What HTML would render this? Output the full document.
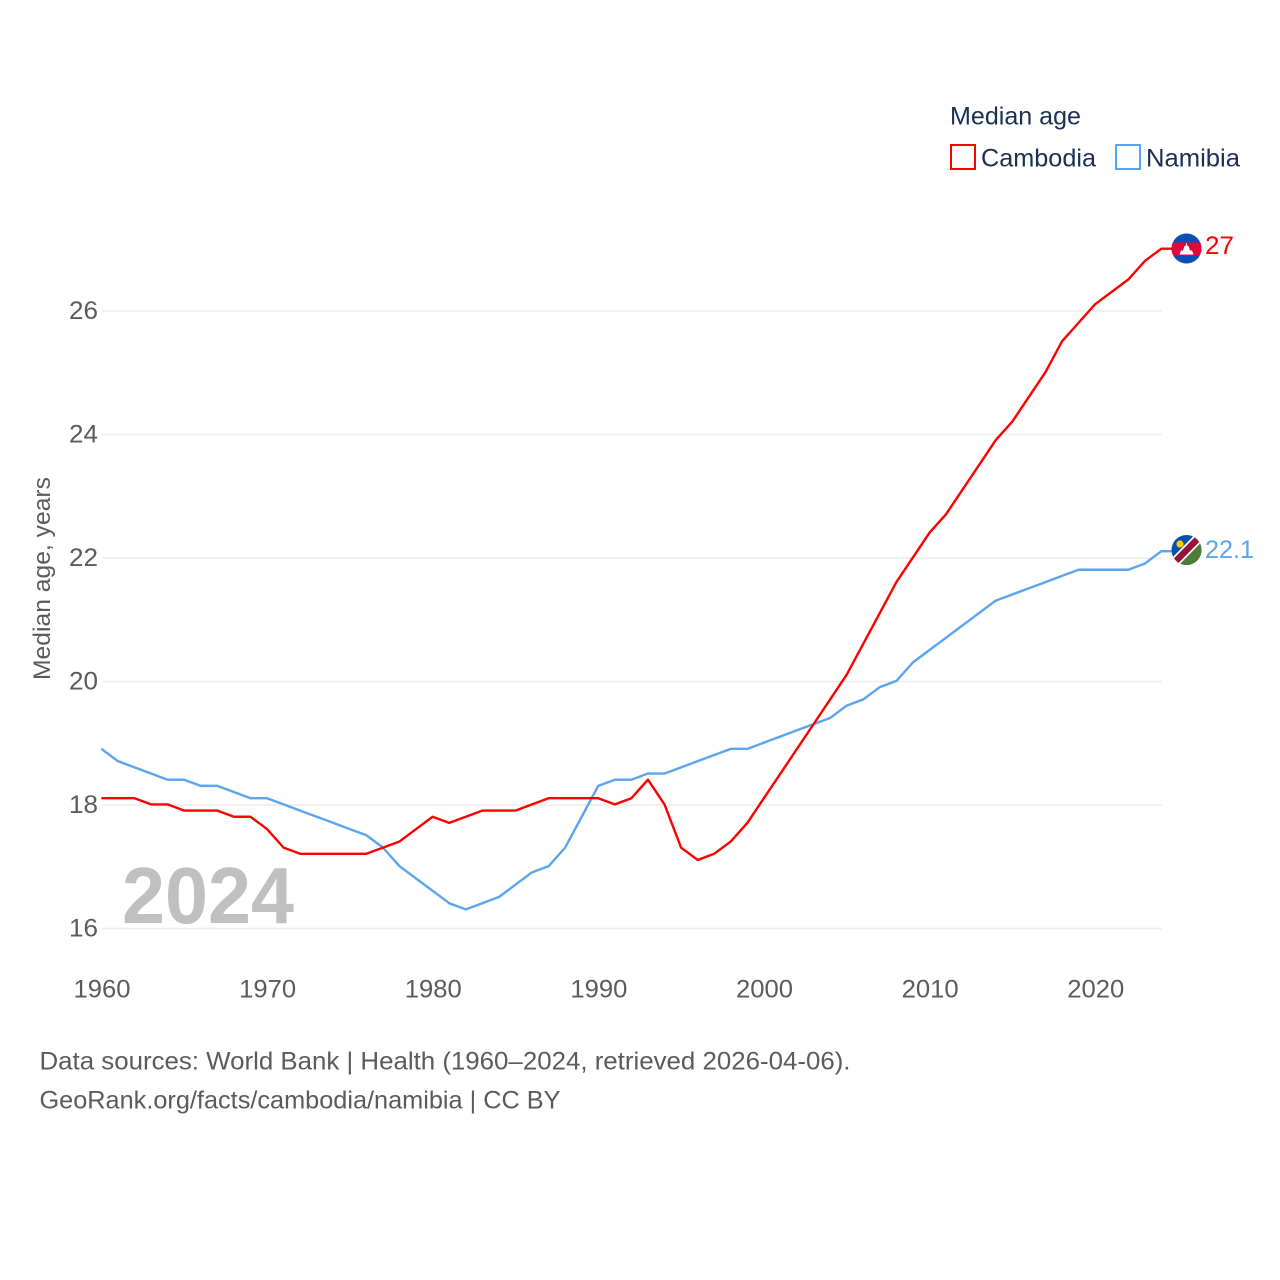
<!DOCTYPE html>
<html lang="en">
<head>
<meta charset="utf-8">
<title>Median age: Cambodia and Namibia</title>
<style>
html,body{margin:0;padding:0;background:#fff;width:1280px;height:1280px;overflow:hidden}
svg{display:block}
text{font-family:"Liberation Sans",sans-serif}
</style>
</head>
<body>
<svg id="chart" width="1280" height="1280" viewBox="0 0 1280 1280" xmlns="http://www.w3.org/2000/svg">
  <rect width="1280" height="1280" fill="#fff"/>
  <g id="grid"></g>
  <g id="yticks"></g>
  <g id="xticks"></g>
  <text transform="translate(50,680) rotate(-90)" font-size="24.5" fill="#5b5b5b" textLength="203" lengthAdjust="spacingAndGlyphs">Median age, years</text>
  <text x="122" y="923" font-size="80" font-weight="bold" fill="#c0c0c0" textLength="172" lengthAdjust="spacingAndGlyphs">2024</text>
  <g id="series"></g>

  <g>
    <clipPath id="clipK"><circle cx="1186.5" cy="248.5" r="15"/></clipPath>
    <g clip-path="url(#clipK)">
      <rect x="1170" y="232" width="33" height="33" fill="#0a4fb4"/>
      <rect x="1170" y="242.5" width="33" height="13" fill="#e0073c"/>
      <path d="M1179.5 254.5 L1181 250.5 L1183 250.5 L1184.5 246 L1185.5 246 L1186.5 242.5 L1187.5 246 L1188.5 246 L1190 250.5 L1192 250.5 L1193.5 254.5 Z" fill="#fff"/>
    </g>
  </g>
  <g>
    <clipPath id="clipN"><circle cx="1186.5" cy="550" r="15"/></clipPath>
    <g clip-path="url(#clipN)">
      <rect x="1170" y="534" width="33" height="33" fill="#0a4fa8"/>
      <path d="M1203 533.5 V567 H1170 Z" fill="#4f7a38"/>
      <path d="M1170 567 L1203 533.5" stroke="#fff" stroke-width="10" fill="none"/>
      <path d="M1170 567 L1203 533.5" stroke="#99123a" stroke-width="6.5" fill="none"/>
      <circle cx="1180" cy="544" r="3.6" fill="#ffce00"/>
    </g>
  </g>
  <text id="label-cambodia" x="1205" y="254" font-size="25" fill="#ff0000" textLength="29" lengthAdjust="spacingAndGlyphs">27</text>
  <text id="label-namibia" x="1205" y="558" font-size="25" fill="#5ba4ee" textLength="49" lengthAdjust="spacingAndGlyphs">22.1</text>

  <g>
    <text x="950" y="124.5" font-size="25" fill="#1a2f52" textLength="131" lengthAdjust="spacingAndGlyphs">Median age</text>
    <g>
      <rect x="951" y="145" width="24" height="24" fill="none" stroke="#ff0000" stroke-width="2"/>
      <text x="981" y="166.5" font-size="25" fill="#1a2f52" textLength="115" lengthAdjust="spacingAndGlyphs">Cambodia</text>
    </g>
    <g>
      <rect x="1116" y="145" width="24" height="24" fill="none" stroke="#5ba4ee" stroke-width="2"/>
      <text x="1146" y="166.5" font-size="25" fill="#1a2f52" textLength="94" lengthAdjust="spacingAndGlyphs">Namibia</text>
    </g>
  </g>

  <text x="39.5" y="1069.5" font-size="25" fill="#5b5b5b" textLength="811" lengthAdjust="spacingAndGlyphs">Data sources: World Bank | Health (1960–2024, retrieved 2026-04-06).</text>
  <text x="39.5" y="1108.5" font-size="25" fill="#5b5b5b" textLength="521" lengthAdjust="spacingAndGlyphs">GeoRank.org/facts/cambodia/namibia | CC BY</text>
</svg>
<script>
const years = [1960,1961,1962,1963,1964,1965,1966,1967,1968,1969,1970,1971,1972,1973,1974,1975,1976,1977,1978,1979,1980,1981,1982,1983,1984,1985,1986,1987,1988,1989,1990,1991,1992,1993,1994,1995,1996,1997,1998,1999,2000,2001,2002,2003,2004,2005,2006,2007,2008,2009,2010,2011,2012,2013,2014,2015,2016,2017,2018,2019,2020,2021,2022,2023,2024];
const cambodia = [18.1,18.1,18.1,18.0,18.0,17.9,17.9,17.9,17.8,17.8,17.6,17.3,17.2,17.2,17.2,17.2,17.2,17.3,17.4,17.6,17.8,17.7,17.8,17.9,17.9,17.9,18.0,18.1,18.1,18.1,18.1,18.0,18.1,18.4,18.0,17.3,17.1,17.2,17.4,17.7,18.1,18.5,18.9,19.3,19.7,20.1,20.6,21.1,21.6,22.0,22.4,22.7,23.1,23.5,23.9,24.2,24.6,25.0,25.5,25.8,26.1,26.3,26.5,26.8,27.0];
const namibia = [18.9,18.7,18.6,18.5,18.4,18.4,18.3,18.3,18.2,18.1,18.1,18.0,17.9,17.8,17.7,17.6,17.5,17.3,17.0,16.8,16.6,16.4,16.3,16.4,16.5,16.7,16.9,17.0,17.3,17.8,18.3,18.4,18.4,18.5,18.5,18.6,18.7,18.8,18.9,18.9,19.0,19.1,19.2,19.3,19.4,19.6,19.7,19.9,20.0,20.3,20.5,20.7,20.9,21.1,21.3,21.4,21.5,21.6,21.7,21.8,21.8,21.8,21.8,21.9,22.1];
const yTickValues = [16,18,20,22,24,26];
const xTickValues = [1960,1970,1980,1990,2000,2010,2020];

const NS = 'http://www.w3.org/2000/svg';
const FLAG_LEFT = 1172;
const xScale = function (v) { return 102 + (v - 1960) * (1162 - 102) / (2024 - 1960); };
const yScale = function (v) { return 928.5 - (v - 16) * (928.5 - 311) / (26 - 16); };
const xLine = function (v) { return 101.4 + (v - 1960) * (1161.4 - 101.4) / (2024 - 1960); };
const yLine = function (v) { return yScale(v) - 0.6; };

const gridGroup = document.getElementById('grid');
const yGroup = document.getElementById('yticks');
const xGroup = document.getElementById('xticks');
const seriesGroup = document.getElementById('series');

yTickValues.forEach(function (t) {
  const line = document.createElementNS(NS, 'line');
  
  
  line.setAttribute('x1', 102);
  line.setAttribute('x2', 1161.5);
  line.setAttribute('y1', yScale(t));
  line.setAttribute('y2', yScale(t));
  line.setAttribute('stroke', '#ececec');
  line.setAttribute('stroke-width', '1.5');
  gridGroup.appendChild(line);

  const label = document.createElementNS(NS, 'text');
  
  
  label.setAttribute('x', 98);
  label.setAttribute('y', yScale(t) + 8);
  label.setAttribute('text-anchor', 'end');
  label.setAttribute('font-size', '25');
  label.setAttribute('fill', '#5b5b5b');
  label.setAttribute('textLength', '29');
  label.setAttribute('lengthAdjust', 'spacingAndGlyphs');
  label.textContent = t;
  yGroup.appendChild(label);
});

xTickValues.forEach(function (t) {
  const label = document.createElementNS(NS, 'text');
  
  
  label.setAttribute('x', xScale(t));
  label.setAttribute('y', 997.5);
  label.setAttribute('text-anchor', 'middle');
  label.setAttribute('font-size', '25');
  label.setAttribute('fill', '#5b5b5b');
  label.setAttribute('textLength', '57');
  label.setAttribute('lengthAdjust', 'spacingAndGlyphs');
  label.textContent = t;
  xGroup.appendChild(label);
});

function pathFor(values) {
  const d = values.map(function (v, i) {
    return (i ? 'L' : 'M') + xLine(years[i]).toFixed(2) + ' ' + yLine(v).toFixed(2);
  }).join(' ');
  return d + ' L' + FLAG_LEFT + ' ' + yLine(values[values.length - 1]).toFixed(2);
}

const namibiaLine = document.createElementNS(NS, 'path');


namibiaLine.setAttribute('d', pathFor(namibia));
namibiaLine.setAttribute('fill', 'none');
namibiaLine.setAttribute('stroke', '#5ba4ee');
namibiaLine.setAttribute('stroke-width', '2.4');
namibiaLine.setAttribute('stroke-linejoin', 'round');
seriesGroup.appendChild(namibiaLine);

const cambodiaLine = document.createElementNS(NS, 'path');


cambodiaLine.setAttribute('d', pathFor(cambodia));
cambodiaLine.setAttribute('fill', 'none');
cambodiaLine.setAttribute('stroke', '#ff0000');
cambodiaLine.setAttribute('stroke-width', '2.4');
cambodiaLine.setAttribute('stroke-linejoin', 'round');
seriesGroup.appendChild(cambodiaLine);
</script>
</body>
</html>
